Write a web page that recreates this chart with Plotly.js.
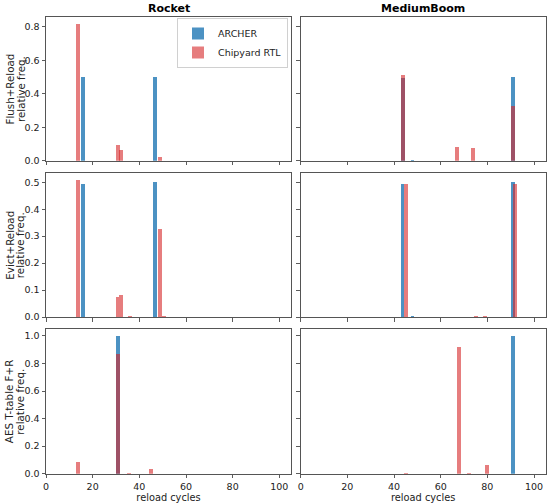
<!DOCTYPE html>
<html>
<head>
<meta charset="utf-8">
<script src="https://cdn.plot.ly/plotly-3.0.1.min.js"></script>
<style>html,body{margin:0;padding:0;background:#fff;}#chart{width:550px;height:503px;}</style>
</head>
<body>
<div id="chart"></div>
<script>
// ---- Data (bin centres in reload cycles, relative frequencies) ----
const columnTitles = ["Rocket", "MediumBoom"];
const rowLabelsTop = ["Flush+Reload", "Evict+Reload", "AES T-table F+R"];
const rowLabelsBottom = ["relative freq.", "relative freq.", "relative freq."];
const seriesNames = ["ARCHER", "Chipyard RTL"];

const frRocketArcherX = [15.85, 46.85];
const frRocketArcherY = [0.50, 0.50];
const frRocketChipX = [13.8, 30.7, 32.05, 48.85];
const frRocketChipY = [0.82, 0.094, 0.065, 0.02];

const frBoomArcherX = [43.8, 47.9, 91.0];
const frBoomArcherY = [0.495, 0.003, 0.50];
const frBoomChipX = [43.8, 67.0, 74.0, 91.0];
const frBoomChipY = [0.51, 0.082, 0.076, 0.33];

const erRocketArcherX = [15.85, 46.85];
const erRocketArcherY = [0.495, 0.50];
const erRocketChipX = [13.8, 30.65, 32.05, 35.9, 48.7, 50.4];
const erRocketChipY = [0.51, 0.075, 0.08, 0.003, 0.325, 0.003];

const erBoomArcherX = [43.6, 47.9, 91.0];
const erBoomArcherY = [0.495, 0.003, 0.50];
const erBoomChipX = [45.1, 75.1, 79.0, 92.0];
const erBoomChipY = [0.495, 0.003, 0.003, 0.495];

const aesRocketArcherX = [30.75];
const aesRocketArcherY = [1.0];
const aesRocketChipX = [13.8, 30.75, 35.5, 44.9];
const aesRocketChipY = [0.088, 0.87, 0.003, 0.035];

const aesBoomArcherX = [91.0];
const aesBoomArcherY = [1.0];
const aesBoomChipX = [45.0, 67.9, 72.0, 79.75];
const aesBoomChipY = [0.005, 0.92, 0.002, 0.06];

const xTickVals = [0, 20, 40, 60, 80, 100];
const yTicksRow = [
  [0, 0.2, 0.4, 0.6, 0.8],
  [0, 0.1, 0.2, 0.3, 0.4, 0.5],
  [0, 0.2, 0.4, 0.6, 0.8, 1.0]
];
const yTickText = [
  ["0.0", "0.2", "0.4", "0.6", "0.8"],
  ["0.0", "0.1", "0.2", "0.3", "0.4", "0.5"],
  ["0.0", "0.2", "0.4", "0.6", "0.8", "1.0"]
];
const yRanges = [[0, 0.861], [0, 0.5355], [0, 1.05]];

// ---- Styling ----
const FONT = "DejaVu Sans, sans-serif";
const blue = "rgba(31,119,180,0.8)";
const red = "rgba(214,39,40,0.6)";
const barW = 1.65;

const panels = [
  [frRocketArcherX, frRocketArcherY, frRocketChipX, frRocketChipY],
  [frBoomArcherX, frBoomArcherY, frBoomChipX, frBoomChipY],
  [erRocketArcherX, erRocketArcherY, erRocketChipX, erRocketChipY],
  [erBoomArcherX, erBoomArcherY, erBoomChipX, erBoomChipY],
  [aesRocketArcherX, aesRocketArcherY, aesRocketChipX, aesRocketChipY],
  [aesBoomArcherX, aesBoomArcherY, aesBoomChipX, aesBoomChipY]
];

const traces = [];
panels.forEach((p, i) => {
  const ax = i === 0 ? "" : String(i + 1);
  traces.push({type: "bar", x: p[0], y: p[1], width: barW, name: seriesNames[0],
    marker: {color: blue, line: {width: 0}}, xaxis: "x" + ax, yaxis: "y" + ax,
    showlegend: i === 0, hoverinfo: "x+y"});
  traces.push({type: "bar", x: p[2], y: p[3], width: barW, name: seriesNames[1],
    marker: {color: red, line: {width: 0}}, xaxis: "x" + ax, yaxis: "y" + ax,
    showlegend: i === 0, hoverinfo: "x+y"});
});

const W = 550, H = 503;
const xDom = [[46 / W, 291 / W], [300.7 / W, 545.7 / W]];
const yDom = [
  [1 - 160.7 / H, 1 - 16.7 / H],
  [1 - 317 / H, 1 - 172.7 / H],
  [1 - 473.7 / H, 1 - 329 / H]
];

const layout = {
  width: W, height: H,
  margin: {l: 0, r: 0, t: 0, b: 0},
  paper_bgcolor: "#fff", plot_bgcolor: "#fff",
  barmode: "overlay",
  bargap: 0,
  font: {family: FONT, size: 9, color: "#000"},
  showlegend: true,
  legend: {
    x: 288 / W, xanchor: "right", y: 1 - 18 / H, yanchor: "top",
    bgcolor: "rgba(255,255,255,0.8)", bordercolor: "#d0d0d0", borderwidth: 1,
    font: {family: FONT, size: 9.5, color: "#222"},
    tracegroupgap: 0, itemwidth: 30, traceorder: "normal"
  },
  annotations: []
};

for (let r = 0; r < 3; r++) {
  for (let c = 0; c < 2; c++) {
    const i = r * 2 + c;
    const ax = i === 0 ? "" : String(i + 1);
    layout["xaxis" + ax] = {
      domain: xDom[c], range: [0, 105], anchor: "y" + ax,
      tickvals: xTickVals, ticks: "outside", ticklen: 3.5, tickwidth: 0.8, tickcolor: "#333",
      showticklabels: r === 2, tickfont: {family: FONT, size: 9.5, color: "#222"},
      showline: true, mirror: true, linecolor: "#555", linewidth: 1,
      showgrid: false, zeroline: false,
      title: r === 2 ? {text: "reload cycles", font: {family: FONT, size: 9.8, color: "#222"}, standoff: 1} : {text: ""}
    };
    layout["yaxis" + ax] = {
      domain: yDom[r], range: yRanges[r], anchor: "x" + ax,
      tickvals: yTicksRow[r], ticktext: yTickText[r],
      ticks: "outside", ticklen: 3.5, tickwidth: 0.8, tickcolor: "#333",
      showticklabels: c === 0, tickfont: {family: FONT, size: 9.5, color: "#222"},
      showline: true, mirror: true, linecolor: "#555", linewidth: 1,
      showgrid: false, zeroline: false
    };
  }
  const yMid = (yDom[r][0] + yDom[r][1]) / 2;
  layout.annotations.push({
    text: rowLabelsTop[r], textangle: -90, xref: "paper", yref: "paper",
    x: 9.8 / W, y: yMid, xanchor: "center", yanchor: "middle",
    showarrow: false, font: {family: FONT, size: 10.3, color: "#222"}
  });
  layout.annotations.push({
    text: rowLabelsBottom[r], textangle: -90, xref: "paper", yref: "paper",
    x: 20.3 / W, y: yMid, xanchor: "center", yanchor: "middle",
    showarrow: false, font: {family: FONT, size: 10.3, color: "#222"}
  });
}
columnTitles.forEach((t, c) => {
  layout.annotations.push({
    text: "<b>" + t + "</b>", xref: "paper", yref: "paper",
    x: (xDom[c][0] + xDom[c][1]) / 2, y: 1 - 8.5 / H, xanchor: "center", yanchor: "middle",
    showarrow: false, font: {family: FONT, size: 11, color: "#000"}
  });
});

Plotly.newPlot("chart", traces, layout, {displayModeBar: false, staticPlot: true});
</script>
</body>
</html>
